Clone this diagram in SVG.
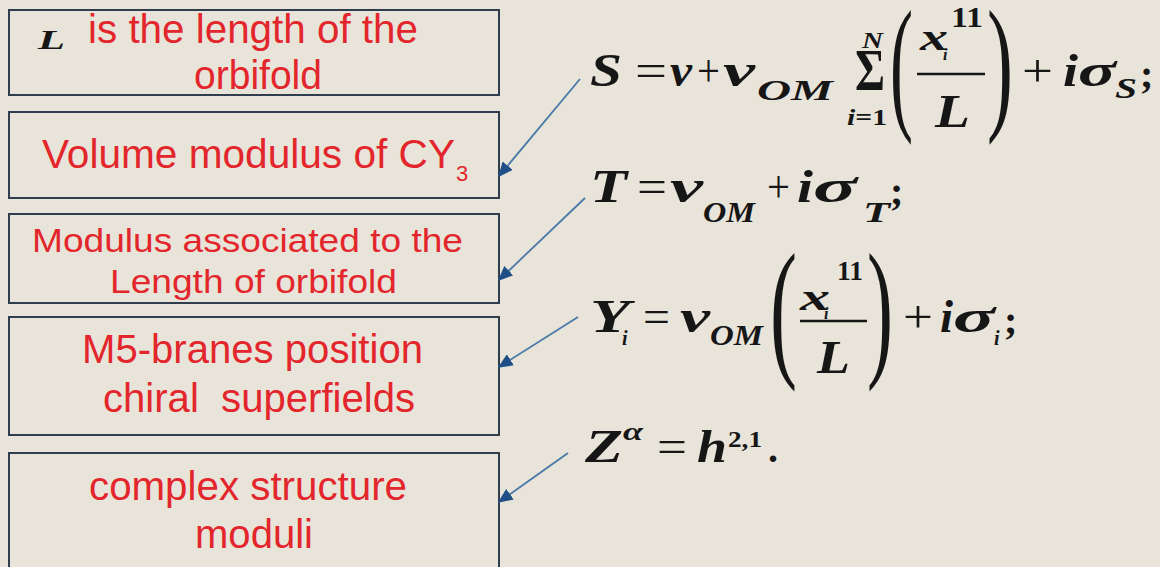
<svg xmlns="http://www.w3.org/2000/svg" width="1160" height="567" viewBox="0 0 1160 567">
<defs>
<style>
.bg{fill:#e8e4da}
.box{fill:#e8e4da;stroke:#2f3d4f;stroke-width:2}
.lbl{font-family:"Liberation Sans",Arial,sans-serif;fill:#e3262c}
.mi{font-family:"Liberation Serif","Times New Roman",serif;font-style:italic;font-weight:bold;fill:#161616}
.mn{font-family:"Liberation Serif","Times New Roman",serif;font-weight:bold;fill:#161616}
.mo{font-family:"Liberation Serif","Times New Roman",serif;font-weight:normal;fill:#161616}
.bar{stroke:#161616;stroke-width:2.5}
.conn{stroke:#4a79a8;stroke-width:1.8;fill:none;marker-end:url(#ah)}
</style>
<marker id="ah" viewBox="0 0 10 10" refX="9" refY="5" markerWidth="15" markerHeight="13" markerUnits="userSpaceOnUse" orient="auto" preserveAspectRatio="none">
<path d="M0,0 L10,5 L0,10 Z" fill="#1f4f86"/>
</marker>
</defs>
<rect class="bg" x="0" y="0" width="1160" height="567"/>

<g id="box1">
<rect class="box" x="9" y="10" width="490" height="85"/>
<text class="mi" x="38" y="49" font-size="28" textLength="27" lengthAdjust="spacingAndGlyphs">L</text>
<text class="lbl" x="88" y="43" font-size="40" textLength="330" lengthAdjust="spacingAndGlyphs">is the length of the</text>
<text class="lbl" x="194" y="89" font-size="40" textLength="128" lengthAdjust="spacingAndGlyphs">orbifold</text>
</g>

<g id="box2">
<rect class="box" x="9" y="112" width="490" height="86"/>
<text class="lbl" x="42" y="168" font-size="40" textLength="413" lengthAdjust="spacingAndGlyphs">Volume modulus of CY</text>
<text class="lbl" x="456" y="181" font-size="22">3</text>
</g>

<g id="box3">
<rect class="box" x="9" y="214" width="490" height="89"/>
<text class="lbl" x="32" y="252" font-size="34" textLength="431" lengthAdjust="spacingAndGlyphs">Modulus associated to the</text>
<text class="lbl" x="110" y="293" font-size="34" textLength="287" lengthAdjust="spacingAndGlyphs">Length of orbifold</text>
</g>

<g id="box4">
<rect class="box" x="9" y="317" width="490" height="118"/>
<text class="lbl" x="82" y="363" font-size="40" textLength="341" lengthAdjust="spacingAndGlyphs">M5-branes position</text>
<text class="lbl" x="103" y="412" font-size="40" xml:space="preserve" textLength="312" lengthAdjust="spacingAndGlyphs">chiral  superfields</text>
</g>

<g id="box5">
<rect class="box" x="9" y="453" width="490" height="130"/>
<text class="lbl" x="89" y="500" font-size="40" textLength="318" lengthAdjust="spacingAndGlyphs">complex structure</text>
<text class="lbl" x="195" y="548" font-size="40" textLength="118" lengthAdjust="spacingAndGlyphs">moduli</text>
</g>

<g id="eqS">
<text class="mi" x="590" y="86" font-size="46" textLength="32" lengthAdjust="spacingAndGlyphs">S</text>
<text class="mo" x="635" y="86" font-size="46" textLength="32" lengthAdjust="spacingAndGlyphs">=</text>
<text class="mi" x="670" y="86" font-size="46" textLength="22" lengthAdjust="spacingAndGlyphs">v</text>
<text class="mo" x="697" y="86" font-size="46" textLength="23" lengthAdjust="spacingAndGlyphs">+</text>
<text class="mi" x="723" y="86" font-size="46" textLength="32" lengthAdjust="spacingAndGlyphs">v</text>
<text class="mi" x="757" y="100" font-size="30" textLength="76" lengthAdjust="spacingAndGlyphs">OM</text>
<text class="mn" x="855" y="90" font-size="60" textLength="30" lengthAdjust="spacingAndGlyphs">Σ</text>
<text class="mi" x="862" y="48" font-size="24" textLength="21" lengthAdjust="spacingAndGlyphs">N</text>
<text class="mn" x="847" y="125" font-size="24" textLength="40" lengthAdjust="spacingAndGlyphs"><tspan class="mi">i</tspan>=1</text>
<text class="mo" x="890" y="113" font-size="148" textLength="23" lengthAdjust="spacingAndGlyphs">(</text>
<text class="mi" x="920" y="50" font-size="38" textLength="28" lengthAdjust="spacingAndGlyphs">x</text>
<text class="mi" x="943" y="60" font-size="16">i</text>
<text class="mn" x="951" y="27" font-size="30" textLength="32" lengthAdjust="spacingAndGlyphs">11</text>
<line class="bar" x1="917" y1="74" x2="985" y2="74"/>
<text class="mi" x="935" y="127" font-size="46" textLength="35" lengthAdjust="spacingAndGlyphs">L</text>
<text class="mo" x="987" y="113" font-size="148" textLength="26" lengthAdjust="spacingAndGlyphs">)</text>
<text class="mo" x="1022" y="86" font-size="46" textLength="31" lengthAdjust="spacingAndGlyphs">+</text>
<text class="mi" x="1063" y="86" font-size="46" textLength="15" lengthAdjust="spacingAndGlyphs">i</text>
<text class="mi" x="1078" y="86" font-size="46" textLength="38" lengthAdjust="spacingAndGlyphs">σ</text>
<text class="mi" x="1115" y="98" font-size="30" textLength="22" lengthAdjust="spacingAndGlyphs">S</text>
<text class="mn" x="1140" y="88" font-size="40">;</text>
</g>

<g id="eqT">
<text class="mi" x="590" y="202" font-size="46" textLength="37" lengthAdjust="spacingAndGlyphs">T</text>
<text class="mo" x="637" y="202" font-size="46" textLength="30" lengthAdjust="spacingAndGlyphs">=</text>
<text class="mi" x="670" y="202" font-size="46" textLength="33" lengthAdjust="spacingAndGlyphs">v</text>
<text class="mi" x="703" y="222" font-size="30" textLength="52" lengthAdjust="spacingAndGlyphs">OM</text>
<text class="mo" x="767" y="202" font-size="46" textLength="23" lengthAdjust="spacingAndGlyphs">+</text>
<text class="mi" x="797" y="202" font-size="46" textLength="16" lengthAdjust="spacingAndGlyphs">i</text>
<text class="mi" x="813" y="202" font-size="46" textLength="44" lengthAdjust="spacingAndGlyphs">σ</text>
<text class="mi" x="863" y="222" font-size="30" textLength="27" lengthAdjust="spacingAndGlyphs">T</text>
<text class="mn" x="890" y="205" font-size="40">;</text>
</g>

<g id="eqY">
<text class="mi" x="590" y="332" font-size="46" textLength="40" lengthAdjust="spacingAndGlyphs">Y</text>
<text class="mi" x="622" y="345" font-size="20">i</text>
<text class="mo" x="643" y="332" font-size="46" textLength="27" lengthAdjust="spacingAndGlyphs">=</text>
<text class="mi" x="680" y="332" font-size="46" textLength="30" lengthAdjust="spacingAndGlyphs">v</text>
<text class="mi" x="710" y="345" font-size="30" textLength="53" lengthAdjust="spacingAndGlyphs">OM</text>
<text class="mo" x="770" y="359" font-size="152" textLength="27" lengthAdjust="spacingAndGlyphs">(</text>
<text class="mi" x="800" y="310" font-size="38" textLength="30" lengthAdjust="spacingAndGlyphs">x</text>
<text class="mi" x="824" y="319" font-size="16">i</text>
<text class="mn" x="837" y="280" font-size="28" textLength="26" lengthAdjust="spacingAndGlyphs">11</text>
<line class="bar" x1="800" y1="321" x2="867" y2="321"/>
<text class="mi" x="817" y="373" font-size="46" textLength="33" lengthAdjust="spacingAndGlyphs">L</text>
<text class="mo" x="867" y="359" font-size="152" textLength="26" lengthAdjust="spacingAndGlyphs">)</text>
<text class="mo" x="903" y="332" font-size="46" textLength="30" lengthAdjust="spacingAndGlyphs">+</text>
<text class="mi" x="940" y="332" font-size="46" textLength="13" lengthAdjust="spacingAndGlyphs">i</text>
<text class="mi" x="953" y="332" font-size="46" textLength="42" lengthAdjust="spacingAndGlyphs">σ</text>
<text class="mi" x="994" y="345" font-size="20">i</text>
<text class="mn" x="1004" y="334" font-size="40">;</text>
</g>

<g id="eqZ">
<text class="mi" x="585" y="462" font-size="46" textLength="38" lengthAdjust="spacingAndGlyphs">Z</text>
<text class="mi" x="623" y="440" font-size="26" textLength="20" lengthAdjust="spacingAndGlyphs">α</text>
<text class="mo" x="657" y="462" font-size="46" textLength="30" lengthAdjust="spacingAndGlyphs">=</text>
<text class="mi" x="697" y="462" font-size="46" textLength="30" lengthAdjust="spacingAndGlyphs">h</text>
<text class="mn" x="728" y="447" font-size="24" textLength="34" lengthAdjust="spacingAndGlyphs">2,1</text>
<text class="mn" x="768" y="462" font-size="40">.</text>
</g>

<g id="connectors">
<line class="conn" x1="580" y1="79" x2="499" y2="176"/>
<line class="conn" x1="585" y1="198" x2="499" y2="280"/>
<line class="conn" x1="578" y1="317" x2="499" y2="367"/>
<line class="conn" x1="568" y1="453" x2="499" y2="502"/>
</g>
</svg>
